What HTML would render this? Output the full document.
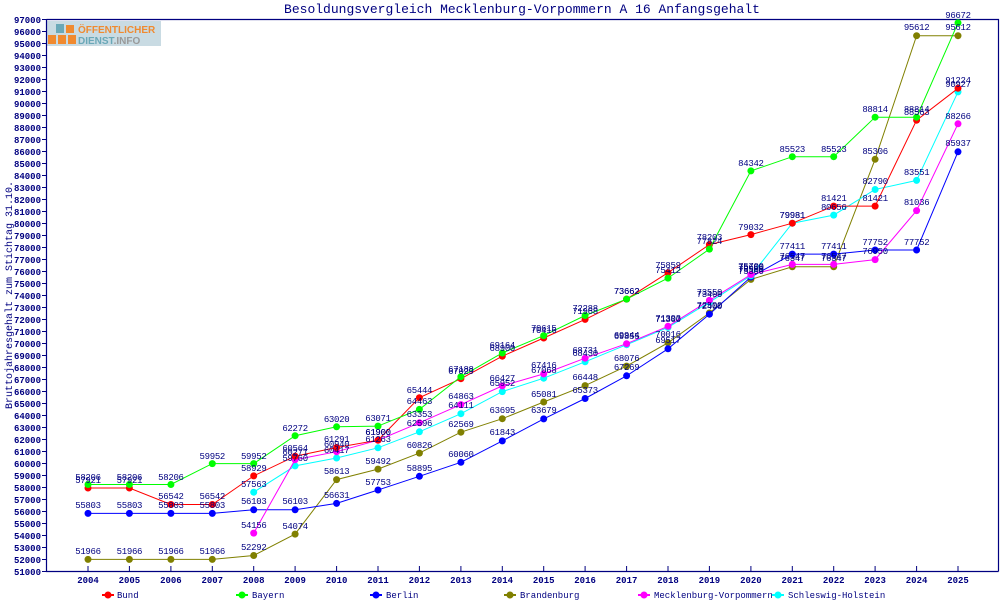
<!DOCTYPE html>
<html><head><meta charset="utf-8"><style>
html,body{margin:0;padding:0;background:#fff;}
svg{display:block;font-family:"Liberation Mono",monospace;}
.l{font-size:9px;fill:#000080;text-anchor:middle;letter-spacing:-0.3px}
.yt{font-size:9px;fill:#000080;text-anchor:end;font-weight:bold}
.xt{font-size:9px;fill:#000080;text-anchor:middle;font-weight:bold}
.lg{font-size:9px;fill:#000080}
</style></head><body>
<svg width="1000" height="600" viewBox="0 0 1000 600" xmlns="http://www.w3.org/2000/svg">
<rect width="1000" height="600" fill="#fff"/>
<text x="522" y="13" font-size="13" fill="#000080" text-anchor="middle">Besoldungsvergleich Mecklenburg-Vorpommern A 16 Anfangsgehalt</text>
<text transform="translate(12,295) rotate(-90)" font-size="10" fill="#000080" text-anchor="middle">Bruttojahresgehalt zum Stichtag 31.10.</text>
<!-- logo -->
<rect x="47" y="21" width="114" height="25" fill="#c9dbe3"/>
<rect x="48" y="35" width="8" height="9" fill="#f08a30"/><rect x="58" y="35" width="8" height="9" fill="#f08a30"/><rect x="68" y="35" width="8" height="9" fill="#f08a30"/>
<rect x="66" y="25" width="8" height="8" fill="#f08a30"/><rect x="56" y="24" width="8" height="9" fill="#6aa8b8"/>
<text x="78" y="33" font-family="Liberation Sans,sans-serif" font-weight="bold" font-size="10" fill="#f08a30">ÖFFENTLICHER</text>
<text x="78" y="44" font-family="Liberation Sans,sans-serif" font-weight="bold" font-size="10" fill="#6aa8b8">DIENST<tspan fill="#999">.INFO</tspan></text>
<!-- frame -->
<path d="M46.5 19.5 H998.5 V571.5 M46.5 19 V571.5 H998.5" fill="none" stroke="#000080" stroke-width="1.2"/>
<g stroke="#000080">
<path d="M42 19.5h4M42 31.5h4M42 43.5h4M42 55.5h4M42 67.5h4M42 79.5h4M42 91.5h4M42 103.5h4M42 115.5h4M42 127.5h4M42 139.5h4M42 151.5h4M42 163.5h4M42 175.5h4M42 187.5h4M42 199.5h4M42 211.5h4M42 223.5h4M42 235.5h4M42 247.5h4M42 259.5h4M42 271.5h4M42 283.5h4M42 295.5h4M42 307.5h4M42 319.5h4M42 331.5h4M42 343.5h4M42 355.5h4M42 367.5h4M42 379.5h4M42 391.5h4M42 403.5h4M42 415.5h4M42 427.5h4M42 439.5h4M42 451.5h4M42 463.5h4M42 475.5h4M42 487.5h4M42 499.5h4M42 511.5h4M42 523.5h4M42 535.5h4M42 547.5h4M42 559.5h4M42 571.5h4"/>
<path d="M88 571v-5M129.4 571v-5M170.9 571v-5M212.3 571v-5M253.7 571v-5M295.1 571v-5M336.6 571v-5M378 571v-5M419.4 571v-5M460.9 571v-5M502.3 571v-5M543.7 571v-5M585.1 571v-5M626.6 571v-5M668 571v-5M709.4 571v-5M750.9 571v-5M792.3 571v-5M833.7 571v-5M875.1 571v-5M916.6 571v-5M958 571v-5"/>
</g>
<g class="yt">
<text x="41" y="23">97000</text><text x="41" y="35">96000</text><text x="41" y="47">95000</text><text x="41" y="59">94000</text><text x="41" y="71">93000</text><text x="41" y="83">92000</text><text x="41" y="95">91000</text><text x="41" y="107">90000</text><text x="41" y="119">89000</text><text x="41" y="131">88000</text><text x="41" y="143">87000</text><text x="41" y="155">86000</text><text x="41" y="167">85000</text><text x="41" y="179">84000</text><text x="41" y="191">83000</text><text x="41" y="203">82000</text><text x="41" y="215">81000</text><text x="41" y="227">80000</text><text x="41" y="239">79000</text><text x="41" y="251">78000</text><text x="41" y="263">77000</text><text x="41" y="275">76000</text><text x="41" y="287">75000</text><text x="41" y="299">74000</text><text x="41" y="311">73000</text><text x="41" y="323">72000</text><text x="41" y="335">71000</text><text x="41" y="347">70000</text><text x="41" y="359">69000</text><text x="41" y="371">68000</text><text x="41" y="383">67000</text><text x="41" y="395">66000</text><text x="41" y="407">65000</text><text x="41" y="419">64000</text><text x="41" y="431">63000</text><text x="41" y="443">62000</text><text x="41" y="455">61000</text><text x="41" y="467">60000</text><text x="41" y="479">59000</text><text x="41" y="491">58000</text><text x="41" y="503">57000</text><text x="41" y="515">56000</text><text x="41" y="527">55000</text><text x="41" y="539">54000</text><text x="41" y="551">53000</text><text x="41" y="563">52000</text><text x="41" y="575">51000</text>
</g>
<g class="xt">
<text x="88" y="583">2004</text><text x="129.4" y="583">2005</text><text x="170.9" y="583">2006</text><text x="212.3" y="583">2007</text><text x="253.7" y="583">2008</text><text x="295.1" y="583">2009</text><text x="336.6" y="583">2010</text><text x="378" y="583">2011</text><text x="419.4" y="583">2012</text><text x="460.9" y="583">2013</text><text x="502.3" y="583">2014</text><text x="543.7" y="583">2015</text><text x="585.1" y="583">2016</text><text x="626.6" y="583">2017</text><text x="668" y="583">2018</text><text x="709.4" y="583">2019</text><text x="750.9" y="583">2020</text><text x="792.3" y="583">2021</text><text x="833.7" y="583">2022</text><text x="875.1" y="583">2023</text><text x="916.6" y="583">2024</text><text x="958" y="583">2025</text>
</g>

<!-- Brandenburg -->
<g fill="#808000" stroke="#808000">
<polyline fill="none" points="88,559.4 129.4,559.4 170.9,559.4 212.3,559.4 253.7,555.5 295.1,534.1 336.6,479.6 378,469.1 419.4,453.1 460.9,432.2 502.3,418.7 543.7,402 585.1,385.6 626.6,366.1 668,342.8 709.4,313 750.9,279.4 792.3,266.8 833.7,266.8 875.1,159.3 916.6,35.7 958,35.7"/>
<g stroke="none"><circle cx="88" cy="559.4" r="3.5"/><circle cx="129.4" cy="559.4" r="3.5"/><circle cx="170.9" cy="559.4" r="3.5"/><circle cx="212.3" cy="559.4" r="3.5"/><circle cx="253.7" cy="555.5" r="3.5"/><circle cx="295.1" cy="534.1" r="3.5"/><circle cx="336.6" cy="479.6" r="3.5"/><circle cx="378" cy="469.1" r="3.5"/><circle cx="419.4" cy="453.1" r="3.5"/><circle cx="460.9" cy="432.2" r="3.5"/><circle cx="502.3" cy="418.7" r="3.5"/><circle cx="543.7" cy="402" r="3.5"/><circle cx="585.1" cy="385.6" r="3.5"/><circle cx="626.6" cy="366.1" r="3.5"/><circle cx="668" cy="342.8" r="3.5"/><circle cx="709.4" cy="313" r="3.5"/><circle cx="750.9" cy="279.4" r="3.5"/><circle cx="792.3" cy="266.8" r="3.5"/><circle cx="833.7" cy="266.8" r="3.5"/><circle cx="875.1" cy="159.3" r="3.5"/><circle cx="916.6" cy="35.7" r="3.5"/><circle cx="958" cy="35.7" r="3.5"/></g>
</g>
<!-- Berlin -->
<g fill="#0000ff" stroke="#0000ff">
<polyline fill="none" points="88,513.4 129.4,513.4 170.9,513.4 212.3,513.4 253.7,509.8 295.1,509.8 336.6,503.4 378,490 419.4,476.3 460.9,462.3 502.3,440.9 543.7,418.9 585.1,398.5 626.6,375.8 668,348.8 709.4,314.2 750.9,277 792.3,254.1 833.7,254.1 875.1,250 916.6,250 958,151.8"/>
<g stroke="none"><circle cx="88" cy="513.4" r="3.5"/><circle cx="129.4" cy="513.4" r="3.5"/><circle cx="170.9" cy="513.4" r="3.5"/><circle cx="212.3" cy="513.4" r="3.5"/><circle cx="253.7" cy="509.8" r="3.5"/><circle cx="295.1" cy="509.8" r="3.5"/><circle cx="336.6" cy="503.4" r="3.5"/><circle cx="378" cy="490" r="3.5"/><circle cx="419.4" cy="476.3" r="3.5"/><circle cx="460.9" cy="462.3" r="3.5"/><circle cx="502.3" cy="440.9" r="3.5"/><circle cx="543.7" cy="418.9" r="3.5"/><circle cx="585.1" cy="398.5" r="3.5"/><circle cx="626.6" cy="375.8" r="3.5"/><circle cx="668" cy="348.8" r="3.5"/><circle cx="709.4" cy="314.2" r="3.5"/><circle cx="750.9" cy="277" r="3.5"/><circle cx="792.3" cy="254.1" r="3.5"/><circle cx="833.7" cy="254.1" r="3.5"/><circle cx="875.1" cy="250" r="3.5"/><circle cx="916.6" cy="250" r="3.5"/><circle cx="958" cy="151.8" r="3.5"/></g>
</g>
<!-- SH -->
<g fill="#00ffff" stroke="#00ffff">
<polyline fill="none" points="253.7,492.2 295.1,465.9 336.6,458 378,447.8 419.4,431.8 460.9,413.7 502.3,391.6 543.7,378.2 585.1,361.8 626.6,344.7 668,327.4 709.4,302.2 750.9,275.8 792.3,223.2 833.7,215.1 875.1,189.5 916.6,180.4 958,91.9"/>
<g stroke="none"><circle cx="253.7" cy="492.2" r="3.5"/><circle cx="295.1" cy="465.9" r="3.5"/><circle cx="336.6" cy="458" r="3.5"/><circle cx="378" cy="447.8" r="3.5"/><circle cx="419.4" cy="431.8" r="3.5"/><circle cx="460.9" cy="413.7" r="3.5"/><circle cx="502.3" cy="391.6" r="3.5"/><circle cx="543.7" cy="378.2" r="3.5"/><circle cx="585.1" cy="361.8" r="3.5"/><circle cx="626.6" cy="344.7" r="3.5"/><circle cx="668" cy="327.4" r="3.5"/><circle cx="709.4" cy="302.2" r="3.5"/><circle cx="750.9" cy="275.8" r="3.5"/><circle cx="792.3" cy="223.2" r="3.5"/><circle cx="833.7" cy="215.1" r="3.5"/><circle cx="875.1" cy="189.5" r="3.5"/><circle cx="916.6" cy="180.4" r="3.5"/><circle cx="958" cy="91.9" r="3.5"/></g>
</g>
<!-- MV -->
<g fill="#ff00ff" stroke="#ff00ff">
<polyline fill="none" points="253.7,533.1 295.1,459.7 336.6,451.7 378,440.2 419.4,422.8 460.9,404.6 502.3,385.9 543.7,373.9 585.1,358.2 626.6,343.7 668,326.3 709.4,300.4 750.9,274.6 792.3,264.4 833.7,264.4 875.1,259.6 916.6,210.6 958,123.8"/>
<g stroke="none"><circle cx="253.7" cy="533.1" r="3.5"/><circle cx="295.1" cy="459.7" r="3.5"/><circle cx="336.6" cy="451.7" r="3.5"/><circle cx="378" cy="440.2" r="3.5"/><circle cx="419.4" cy="422.8" r="3.5"/><circle cx="460.9" cy="404.6" r="3.5"/><circle cx="502.3" cy="385.9" r="3.5"/><circle cx="543.7" cy="373.9" r="3.5"/><circle cx="585.1" cy="358.2" r="3.5"/><circle cx="626.6" cy="343.7" r="3.5"/><circle cx="668" cy="326.3" r="3.5"/><circle cx="709.4" cy="300.4" r="3.5"/><circle cx="750.9" cy="274.6" r="3.5"/><circle cx="792.3" cy="264.4" r="3.5"/><circle cx="833.7" cy="264.4" r="3.5"/><circle cx="875.1" cy="259.6" r="3.5"/><circle cx="916.6" cy="210.6" r="3.5"/><circle cx="958" cy="123.8" r="3.5"/></g>
</g>
<!-- Bund -->
<g fill="#ff0000" stroke="#ff0000">
<polyline fill="none" points="88,488 129.4,488 170.9,504.5 212.3,504.5 253.7,475.9 295.1,456.2 336.6,447.5 378,440.2 419.4,397.7 460.9,378.7 502.3,356.2 543.7,338 585.1,319.4 626.6,299.1 668,272.7 709.4,244.6 750.9,234.6 792.3,223.2 833.7,206.1 875.1,206.1 916.6,120.2 958,88.3"/>
<g stroke="none"><circle cx="88" cy="488" r="3.5"/><circle cx="129.4" cy="488" r="3.5"/><circle cx="170.9" cy="504.5" r="3.5"/><circle cx="212.3" cy="504.5" r="3.5"/><circle cx="253.7" cy="475.9" r="3.5"/><circle cx="295.1" cy="456.2" r="3.5"/><circle cx="336.6" cy="447.5" r="3.5"/><circle cx="378" cy="440.2" r="3.5"/><circle cx="419.4" cy="397.7" r="3.5"/><circle cx="460.9" cy="378.7" r="3.5"/><circle cx="502.3" cy="356.2" r="3.5"/><circle cx="543.7" cy="338" r="3.5"/><circle cx="585.1" cy="319.4" r="3.5"/><circle cx="626.6" cy="299.1" r="3.5"/><circle cx="668" cy="272.7" r="3.5"/><circle cx="709.4" cy="244.6" r="3.5"/><circle cx="750.9" cy="234.6" r="3.5"/><circle cx="792.3" cy="223.2" r="3.5"/><circle cx="833.7" cy="206.1" r="3.5"/><circle cx="875.1" cy="206.1" r="3.5"/><circle cx="916.6" cy="120.2" r="3.5"/><circle cx="958" cy="88.3" r="3.5"/></g>
</g>
<!-- Bayern -->
<g fill="#00ff00" stroke="#00ff00">
<polyline fill="none" points="88,484.5 129.4,484.5 170.9,484.5 212.3,463.6 253.7,463.6 295.1,435.7 336.6,426.8 378,426.1 419.4,409.4 460.9,376.7 502.3,353 543.7,335.6 585.1,315.5 626.6,299.1 668,278.1 709.4,249.1 750.9,170.9 792.3,156.7 833.7,156.7 875.1,117.2 916.6,117.2 958,22.9"/>
<g stroke="none"><circle cx="88" cy="484.5" r="3.5"/><circle cx="129.4" cy="484.5" r="3.5"/><circle cx="170.9" cy="484.5" r="3.5"/><circle cx="212.3" cy="463.6" r="3.5"/><circle cx="253.7" cy="463.6" r="3.5"/><circle cx="295.1" cy="435.7" r="3.5"/><circle cx="336.6" cy="426.8" r="3.5"/><circle cx="378" cy="426.1" r="3.5"/><circle cx="419.4" cy="409.4" r="3.5"/><circle cx="460.9" cy="376.7" r="3.5"/><circle cx="502.3" cy="353" r="3.5"/><circle cx="543.7" cy="335.6" r="3.5"/><circle cx="585.1" cy="315.5" r="3.5"/><circle cx="626.6" cy="299.1" r="3.5"/><circle cx="668" cy="278.1" r="3.5"/><circle cx="709.4" cy="249.1" r="3.5"/><circle cx="750.9" cy="170.9" r="3.5"/><circle cx="792.3" cy="156.7" r="3.5"/><circle cx="833.7" cy="156.7" r="3.5"/><circle cx="875.1" cy="117.2" r="3.5"/><circle cx="916.6" cy="117.2" r="3.5"/><circle cx="958" cy="22.9" r="3.5"/></g>
</g>

<!-- labels -->
<g class="l">
<!-- Brandenburg -->
<text x="88" y="554">51966</text><text x="129.4" y="554">51966</text><text x="170.9" y="554">51966</text><text x="212.3" y="554">51966</text><text x="253.7" y="550">52292</text><text x="295.1" y="529">54074</text><text x="336.6" y="474">58613</text><text x="378" y="464">59492</text><text x="419.4" y="448">60826</text><text x="460.9" y="427">62569</text><text x="502.3" y="413">63695</text><text x="543.7" y="397">65081</text><text x="585.1" y="380">66448</text><text x="626.6" y="361">68076</text><text x="668" y="337">70016</text><text x="709.4" y="308">72500</text><text x="750.9" y="274">75300</text><text x="792.3" y="261">76347</text><text x="833.7" y="261">76347</text><text x="875.1" y="154">85306</text><text x="916.6" y="30">95612</text><text x="958" y="30">95612</text>
<!-- Berlin -->
<text x="88" y="508">55803</text><text x="129.4" y="508">55803</text><text x="170.9" y="508">55803</text><text x="212.3" y="508">55803</text><text x="253.7" y="504">56103</text><text x="295.1" y="504">56103</text><text x="336.6" y="498">56631</text><text x="378" y="485">57753</text><text x="419.4" y="471">58895</text><text x="460.9" y="457">60060</text><text x="502.3" y="435">61843</text><text x="543.7" y="413">63679</text><text x="585.1" y="393">65373</text><text x="626.6" y="370">67269</text><text x="668" y="343">69517</text><text x="709.4" y="309">72400</text><text x="750.9" y="272">75500</text><text x="792.3" y="249">77411</text><text x="833.7" y="249">77411</text><text x="875.1" y="245">77752</text><text x="916.6" y="245">77752</text><text x="958" y="146">85937</text>
<!-- SH -->
<text x="253.7" y="487">57563</text><text x="295.1" y="461">59760</text><text x="336.6" y="453">60417</text><text x="378" y="442">61263</text><text x="419.4" y="426">62596</text><text x="460.9" y="408">64111</text><text x="502.3" y="386">65952</text><text x="543.7" y="373">67068</text><text x="585.1" y="356">68430</text><text x="626.6" y="339">69855</text><text x="668" y="322">71300</text><text x="709.4" y="297">73400</text><text x="750.9" y="270">75600</text><text x="792.3" y="218">79981</text><text x="833.7" y="210">80656</text><text x="875.1" y="184">82790</text><text x="916.6" y="175">83551</text><text x="958" y="87">90927</text>
<!-- MV -->
<text x="253.7" y="528">54156</text><text x="295.1" y="455">60271</text><text x="336.6" y="447">60940</text><text x="378" y="435">61900</text><text x="419.4" y="417">63353</text><text x="460.9" y="399">64863</text><text x="502.3" y="381">66427</text><text x="543.7" y="368">67416</text><text x="585.1" y="353">68731</text><text x="626.6" y="338">69944</text><text x="668" y="321">71393</text><text x="709.4" y="295">73550</text><text x="750.9" y="269">75700</text><text x="792.3" y="259">76547</text><text x="833.7" y="259">76547</text><text x="875.1" y="254">76950</text><text x="916.6" y="205">81036</text><text x="958" y="119">88266</text>
<!-- Bund -->
<text x="88" y="483">57921</text><text x="129.4" y="483">57921</text><text x="170.9" y="499">56542</text><text x="212.3" y="499">56542</text><text x="253.7" y="471">58929</text><text x="295.1" y="451">60564</text><text x="336.6" y="442">61291</text><text x="378" y="435">61900</text><text x="419.4" y="393">65444</text><text x="460.9" y="374">67029</text><text x="502.3" y="351">68900</text><text x="543.7" y="333">70416</text><text x="585.1" y="314">71968</text><text x="626.6" y="294">73662</text><text x="668" y="268">75859</text><text x="709.4" y="240">78203</text><text x="750.9" y="230">79032</text><text x="792.3" y="218">79981</text><text x="833.7" y="201">81421</text><text x="875.1" y="201">81421</text><text x="916.6" y="115">88563</text><text x="958" y="83">91224</text>
<!-- Bayern -->
<text x="88" y="480">58206</text><text x="129.4" y="480">58206</text><text x="170.9" y="480">58206</text><text x="212.3" y="459">59952</text><text x="253.7" y="459">59952</text><text x="295.1" y="431">62272</text><text x="336.6" y="422">63020</text><text x="378" y="421">63071</text><text x="419.4" y="404">64463</text><text x="460.9" y="372">67188</text><text x="502.3" y="348">69164</text><text x="543.7" y="331">70615</text><text x="585.1" y="311">72288</text><text x="626.6" y="294">73662</text><text x="668" y="273">75412</text><text x="709.4" y="244">77824</text><text x="750.9" y="166">84342</text><text x="792.3" y="152">85523</text><text x="833.7" y="152">85523</text><text x="875.1" y="112">88814</text><text x="916.6" y="112">88814</text><text x="958" y="18">96672</text>
</g>

<!-- legend -->
<g stroke-width="2">
<line x1="102" y1="595" x2="114" y2="595" stroke="#ff0000"/><circle cx="108" cy="595" r="3.5" fill="#ff0000"/>
<line x1="236" y1="595" x2="248" y2="595" stroke="#00ff00"/><circle cx="242" cy="595" r="3.5" fill="#00ff00"/>
<line x1="370" y1="595" x2="382" y2="595" stroke="#0000ff"/><circle cx="376" cy="595" r="3.5" fill="#0000ff"/>
<line x1="504" y1="595" x2="516" y2="595" stroke="#808000"/><circle cx="510" cy="595" r="3.5" fill="#808000"/>
<line x1="638" y1="595" x2="650" y2="595" stroke="#ff00ff"/><circle cx="644" cy="595" r="3.5" fill="#ff00ff"/>
<line x1="772" y1="595" x2="784" y2="595" stroke="#00ffff"/><circle cx="778" cy="595" r="3.5" fill="#00ffff"/>
</g>
<g class="lg">
<text x="117" y="598">Bund</text><text x="252" y="598">Bayern</text><text x="386" y="598">Berlin</text><text x="520" y="598">Brandenburg</text><text x="654" y="598">Mecklenburg-Vorpommern</text><text x="788" y="598">Schleswig-Holstein</text>
</g>
</svg>
</body></html>
